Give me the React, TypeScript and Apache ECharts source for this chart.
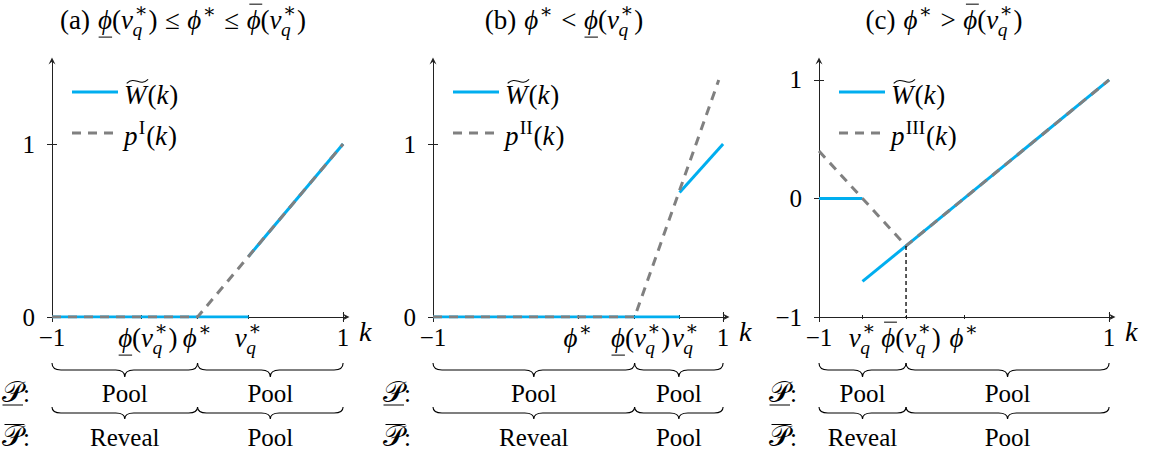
import React, { useEffect, useRef } from 'react';
import * as echarts from 'echarts';

type Pt = [number, number];

// ---- W̃(k) pieces and p(k) for each panel ----
const wA1: Pt[] = [[-1, 0], [0.35, 0]];
const wA2: Pt[] = [[0.35, 0.35], [1, 1]];
const pA: Pt[] = [[-1, 0], [0, 0], [1, 1]];

const wB1: Pt[] = [[-1, 0], [0.7, 0]];
const wB2: Pt[] = [[0.7, 0.72], [1, 1]];
const pB: Pt[] = [[-1, 0], [0.39, 0], [0.97, 1.37]];

const wC1: Pt[] = [[-1, 0], [-0.7, 0]];
const wC2: Pt[] = [[-0.7, -0.7], [1, 1]];
const pC: Pt[] = [[-1, 0.4], [-0.4, -0.4], [1, 1]];
const guideC: Pt[] = [[-0.4, -0.4], [-0.4, -1]];

// ---- marked points on the k axis ----
const marksA = [-0.39, 0, 0.35]; // ϕ̲(v*q), ϕ*, v*q
const marksB = [0, 0.39, 0.7]; // ϕ*, ϕ̲(v*q), v*q
const marksC = [-0.7, -0.4, 0]; // v*q, ϕ̄(v*q), ϕ*

const yTicksA = [0, 1];
const yTicksB = [0, 1];
const yTicksC = [-1, 0, 1];
const xTicks = [-1, 1];

const yRangeA = [0, 1.48];
const yRangeB = [0, 1.48];
const yRangeC = [-1, 1.16];

// ---- where the two disclosure regimes split ----
const splits = [0, 0.39, -0.4];
const lowerRegime = ['Pool', 'Pool'];
const upperRegime = ['Reveal', 'Pool'];
const pSup = ['I', 'II', 'III'];

const FONT = 'Liberation Serif';
const STAR_FONT = 'DejaVu Serif';
const TS = 25; // running text and digits
const MS = 27; // math expressions
const BLUE = '#00AEEF';
const GRAY = '#808080';
const AXIS = '#222';
const ARROW = 'path://M0,10 L5,0 L10,10 L5,6 Z';

const GRIDS = [
  { left: 52, top: 61, width: 294, height: 256 },
  { left: 433, top: 61, width: 293, height: 256 },
  { left: 819, top: 61, width: 293, height: 256 },
];

// curly brace under an interval, tip pointing down
const BraceShape = (echarts.graphic as any).extendShape({
  type: 'brace',
  shape: { x1: 0, x2: 0, y: 0, h: 12 },
  buildPath(ctx: any, s: any) {
    const { x1, x2, y, h } = s;
    const xm = (x1 + x2) / 2;
    const r = Math.min(9, (x2 - x1) / 4);
    const ym = y + h / 2;
    ctx.moveTo(x1, y);
    ctx.quadraticCurveTo(x1, ym, x1 + r, ym);
    ctx.lineTo(xm - r, ym);
    ctx.quadraticCurveTo(xm, ym, xm, y + h);
    ctx.quadraticCurveTo(xm, ym, xm + r, ym);
    ctx.lineTo(x2 - r, ym);
    ctx.quadraticCurveTo(x2, ym, x2, y);
  },
});
echarts.graphic.registerShape('brace', BraceShape);

// ---- tiny math typesetter built from text pieces ----
type Tok = {
  t?: string;
  it?: boolean;
  sp?: number;
  under?: boolean;
  over?: boolean;
  tilde?: boolean;
  sup?: string;
  sub?: string;
  uy?: number;
  oy?: number;
  scale?: number;
};

let measureCtx: CanvasRenderingContext2D | null = null;
function textWidth(t: string, size: number, italic: boolean, family = FONT) {
  if (!measureCtx) measureCtx = document.createElement('canvas').getContext('2d');
  measureCtx!.font = `${italic ? 'italic ' : ''}${size}px "${family}"`;
  return measureCtx!.measureText(t).width;
}

function textEl(t: string, x: number, baseline: number, size: number, italic: boolean, family = FONT) {
  return {
    type: 'text',
    x,
    y: baseline - 0.3375 * size,
    silent: true,
    style: {
      text: t,
      fontSize: size,
      fontFamily: family,
      fontStyle: italic ? 'italic' : 'normal',
      fill: '#000',
      align: 'left',
      textAlign: 'left',
      verticalAlign: 'middle',
      textVerticalAlign: 'middle',
    },
  };
}

function math(toks: Tok[], size: number, ax: number, base: number, align: 'left' | 'center') {
  const items: any[] = [];
  let cx = 0;
  const ss = size * 0.72;
  for (const tk of toks) {
    if (tk.sp) {
      cx += tk.sp * size;
      continue;
    }
    const t = tk.t || '';
    const it = !!tk.it;
    const fs = size * (tk.scale ?? 1);
    const w = textWidth(t, fs, it);
    items.push({ kind: 'text', t, x: cx, b: 0, fs, it, fam: FONT });
    if (tk.under) {
      const y = (tk.uy ?? 0.3) * size;
      items.push({ kind: 'line', x1: cx + 0.02 * size, x2: cx + w, y });
    }
    if (tk.over) {
      const y = -(tk.oy ?? 0.92) * size;
      items.push({ kind: 'line', x1: cx + 0.1 * size, x2: cx + w + 0.06 * size, y });
    }
    if (tk.tilde) {
      items.push({ kind: 'tilde', x1: cx + 0.1 * size, x2: cx + w + 0.06 * size, y: -0.84 * size });
    }
    let adv = w;
    if (tk.sup || tk.sub) {
      let sw = 0;
      if (tk.sup) {
        const fam = tk.sup === '∗' ? STAR_FONT : FONT;
        const supW = textWidth(tk.sup, ss, false, fam);
        const sx = cx + w + (it ? 0.05 : 0.02) * size;
        items.push({ kind: 'text', t: tk.sup, x: sx, b: -(tk.sub ? 0.44 : 0.42) * size, fs: ss, it: false, fam });
        sw = Math.max(sw, sx + supW - (cx + w));
      }
      if (tk.sub) {
        const subW = textWidth(tk.sub, ss, true);
        const sx = cx + w - (it ? 0.02 : 0) * size;
        items.push({ kind: 'text', t: tk.sub, x: sx, b: 0.25 * size, fs: ss, it: true, fam: FONT });
        sw = Math.max(sw, sx + subW - (cx + w));
      }
      adv = w + sw + 0.03 * size;
    }
    cx += adv;
  }
  const x0 = align === 'center' ? ax - cx / 2 : ax;
  const out: any[] = [];
  for (const d of items) {
    if (d.kind === 'text') out.push(textEl(d.t, x0 + d.x, base + d.b, d.fs, d.it, d.fam));
    else if (d.kind === 'line')
      out.push({
        type: 'line',
        silent: true,
        shape: { x1: x0 + d.x1, y1: base + d.y, x2: x0 + d.x2, y2: base + d.y },
        style: { stroke: '#000', lineWidth: 1 },
      });
    else {
      const a = x0 + d.x1;
      const b = x0 + d.x2;
      const y = base + d.y;
      out.push({
        type: 'bezierCurve',
        silent: true,
        shape: {
          x1: a, y1: y + 2, x2: b, y2: y - 2,
          cpx1: a + (b - a) * 0.4, cpy1: y - 6,
          cpx2: b - (b - a) * 0.4, cpy2: y + 6,
        },
        style: { stroke: '#000', lineWidth: 1.1, fill: 'none' },
      });
    }
  }
  return out;
}

const phiLow: Tok[] = [{ t: 'ϕ', it: true, under: true }, { t: '(' }, { t: 'v', it: true, sup: '∗', sub: 'q' }, { t: ')' }];
const phiBar: Tok[] = [{ t: 'ϕ', it: true, over: true }, { t: '(' }, { t: 'v', it: true, sup: '∗', sub: 'q' }, { t: ')' }];
const phiStar: Tok[] = [{ t: 'ϕ', it: true, sup: '∗' }];
const vq: Tok[] = [{ t: 'v', it: true, sup: '∗', sub: 'q' }];
const rel = (r: string): Tok[] => [{ sp: 0.28 }, { t: r }, { sp: 0.28 }];

const titles: Tok[][] = [
  [{ t: '(a)' }, { sp: 0.3 }, ...phiLow, ...rel('≤'), ...phiStar, ...rel('≤'), ...phiBar],
  [{ t: '(b)' }, { sp: 0.3 }, ...phiStar, ...rel('<'), ...phiLow],
  [{ t: '(c)' }, { sp: 0.3 }, ...phiStar, ...rel('>'), ...phiBar],
];
const titleCenters = [183, 564, 944];

const markLabels: Tok[][][] = [
  [phiLow, phiStar, vq],
  [phiStar, phiLow, vq],
  [vq, phiBar, phiStar],
];
const markLabelShift = [
  [7, 0, 0],
  [0, 6, 6],
  [0, 5, 0],
];
const allMarks = [marksA, marksB, marksC];
const yTicks = [yTicksA, yTicksB, yTicksC];
const yRanges = [yRangeA, yRangeB, yRangeC];

const labelFont = { fontFamily: FONT, fontSize: TS, color: '#000' };
const minusFmt = (v: number) => (v < 0 ? '−' + Math.abs(v) : String(v));

function xAxesFor(gi: number) {
  const base = {
    type: 'value',
    gridIndex: gi,
    min: -1,
    max: 1.02,
    position: 'bottom',
    splitLine: { show: false },
  };
  const tickStyle = { color: AXIS, width: 1 };
  const hidden = { show: false, onZero: false };
  return [
    {
      ...base,
      name: 'k',
      nameLocation: 'end',
      nameGap: 13,
      nameTextStyle: { fontFamily: FONT, fontStyle: 'italic', fontSize: 28, color: '#000', verticalAlign: 'top', align: 'left' },
      axisLine: { show: true, onZero: false, lineStyle: { color: AXIS, width: 1 }, symbol: ['none', ARROW], symbolSize: [7, 8] },
      axisTick: { show: true, inside: false, length: 5, customValues: xTicks, lineStyle: tickStyle },
      axisLabel: { show: true, customValues: xTicks, margin: 8, formatter: minusFmt, ...labelFont },
    },
    { ...base, axisLine: hidden, axisTick: { show: true, inside: true, length: 5, customValues: xTicks, lineStyle: tickStyle }, axisLabel: { show: false } },
    { ...base, axisLine: hidden, axisTick: { show: true, inside: true, length: 2, customValues: allMarks[gi], lineStyle: tickStyle }, axisLabel: { show: false } },
    { ...base, axisLine: hidden, axisTick: { show: true, inside: false, length: 2, customValues: allMarks[gi], lineStyle: tickStyle }, axisLabel: { show: false } },
  ];
}

function yAxesFor(gi: number) {
  const base = {
    type: 'value',
    gridIndex: gi,
    min: yRanges[gi][0],
    max: yRanges[gi][1],
    position: 'left',
    splitLine: { show: false },
  };
  const tickStyle = { color: AXIS, width: 1 };
  return [
    {
      ...base,
      axisLine: { show: true, onZero: false, lineStyle: { color: AXIS, width: 1 }, symbol: ['none', ARROW], symbolSize: [7, 8] },
      axisTick: { show: true, inside: false, length: 5, customValues: yTicks[gi], lineStyle: tickStyle },
      axisLabel: { show: true, customValues: yTicks[gi], margin: 17, formatter: minusFmt, ...labelFont },
    },
    {
      ...base,
      axisLine: { show: false, onZero: false },
      axisTick: { show: true, inside: true, length: 5, customValues: yTicks[gi], lineStyle: tickStyle },
      axisLabel: { show: false },
    },
  ];
}

function line(gi: number, data: Pt[], color: string, dashed: boolean, z: number, width = 3, dash = [9, 7]) {
  return {
    type: 'line',
    xAxisIndex: gi * 4,
    yAxisIndex: gi * 2,
    data,
    symbol: 'none',
    showSymbol: false,
    silent: true,
    z,
    lineStyle: { color, width, type: dashed ? dash : 'solid', cap: 'butt' },
  };
}

function buildOption() {
  return {
    animation: false,
    backgroundColor: '#fff',
    textStyle: { fontFamily: FONT },
    grid: GRIDS.map((g) => ({ ...g, containLabel: false, outerBoundsMode: 'none' })),
    xAxis: [0, 1, 2].flatMap(xAxesFor),
    yAxis: [0, 1, 2].flatMap(yAxesFor),
    series: [
      line(0, wA1, BLUE, false, 2),
      line(0, wA2, BLUE, false, 2),
      line(0, pA, GRAY, true, 3),
      line(1, wB1, BLUE, false, 2),
      line(1, wB2, BLUE, false, 2),
      line(1, pB, GRAY, true, 3),
      line(2, wC1, BLUE, false, 2),
      line(2, wC2, BLUE, false, 2),
      line(2, pC, GRAY, true, 3),
      line(2, guideC, '#000', true, 4, 1.3, [4, 3]),
    ],
  };
}

function buildGraphics(px: (gi: number, x: number, y: number) => number[]) {
  const els: any[] = [];
  const labelBase = 347;
  const brace1 = { y: 363, h: 14 };
  const brace2 = { y: 407, h: 12 };
  const row1Base = 402;
  const row2Base = 446;
  for (let gi = 0; gi < 3; gi++) {
    const y0 = yRanges[gi][0];
    const ax = px(gi, -1, y0)[0];
    const xEnd = px(gi, 1, y0)[0];
    const xs = px(gi, splits[gi], y0)[0];

    // title
    els.push(...math(titles[gi], MS, titleCenters[gi], 29, 'center'));

    // legend
    els.push({ type: 'line', silent: true, shape: { x1: ax + 20, y1: 92, x2: ax + 66, y2: 92 }, style: { stroke: BLUE, lineWidth: 3 } });
    els.push({ type: 'line', silent: true, shape: { x1: ax + 20, y1: 133, x2: ax + 61, y2: 133 }, style: { stroke: GRAY, lineWidth: 3, lineDash: [9, 7] } });
    els.push(...math([{ t: 'W', it: true, tilde: true }, { sp: 0.04 }, { t: '(' }, { t: 'k', it: true }, { sp: 0.03 }, { t: ')' }], MS, ax + 72, 104, 'left'));
    els.push(...math([{ t: 'p', it: true, sup: pSup[gi] }, { t: '(' }, { t: 'k', it: true }, { sp: 0.03 }, { t: ')' }], MS, ax + 72, 145, 'left'));

    // labels of the marked k positions
    allMarks[gi].forEach((k, i) => {
      const x = px(gi, k, y0)[0] + markLabelShift[gi][i];
      els.push(...math(markLabels[gi][i], MS, x, labelBase, 'center'));
    });

    // regime braces
    const spans = [
      [ax, xs],
      [xs, xEnd],
    ];
    spans.forEach(([a, b], i) => {
      els.push({ type: 'brace', silent: true, shape: { x1: a, x2: b, y: brace1.y, h: brace1.h }, style: { stroke: '#000', fill: 'none', lineWidth: 1.1 } });
      els.push({ type: 'brace', silent: true, shape: { x1: a, x2: b, y: brace2.y, h: brace2.h }, style: { stroke: '#000', fill: 'none', lineWidth: 1.1 } });
      els.push(...math([{ t: lowerRegime[i] }], TS, (a + b) / 2, row1Base, 'center'));
      els.push(...math([{ t: upperRegime[i] }], TS, (a + b) / 2, row2Base, 'center'));
    });
    els.push(...math([{ t: '𝒫', under: true, uy: 0.12, scale: 1.15 }, { t: ':' }], TS, ax - 50, row1Base, 'left'));
    els.push(...math([{ t: '𝒫', over: true, oy: 0.86, scale: 1.15 }, { t: ':' }], TS, ax - 50, row2Base, 'left'));
  }
  return els;
}

export default function App() {
  const ref = useRef<HTMLDivElement>(null);
  useEffect(() => {
    const chart = echarts.init(ref.current!, null, { renderer: 'svg' });
    chart.setOption(buildOption() as any);
    const px = (gi: number, x: number, y: number) =>
      chart.convertToPixel({ xAxisIndex: gi * 4, yAxisIndex: gi * 2 } as any, [x, y]) as number[];
    chart.setOption({ graphic: { elements: buildGraphics(px) } } as any);
    return () => chart.dispose();
  }, []);
  return (
    <div
      ref={ref}
      style={{ position: 'absolute', left: 0, top: 0, width: 1155, height: 455, background: '#fff' }}
    />
  );
}
